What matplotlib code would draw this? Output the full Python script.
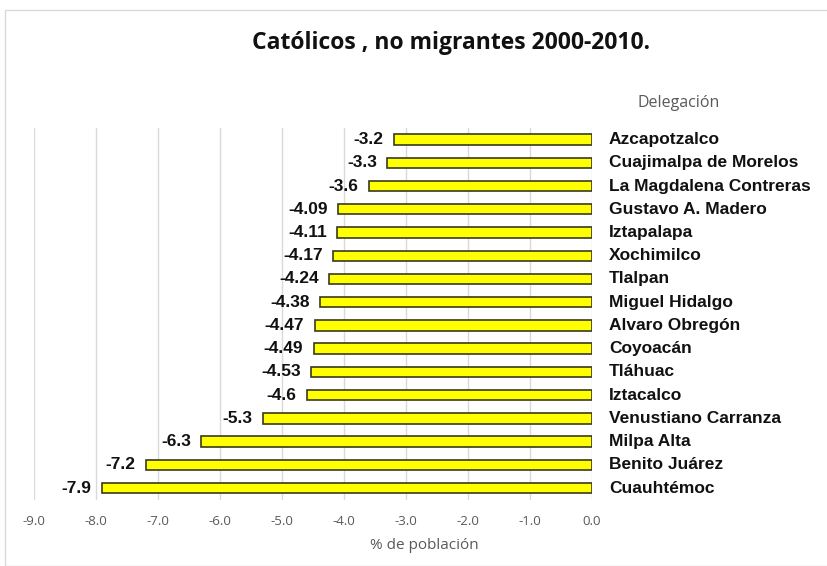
import matplotlib
matplotlib.use("Agg")
import matplotlib.pyplot as plt
from matplotlib.patches import Rectangle

delegaciones = ["Azcapotzalco", "Cuajimalpa de Morelos", "La Magdalena Contreras",
                "Gustavo A. Madero", "Iztapalapa", "Xochimilco", "Tlalpan",
                "Miguel Hidalgo", "Alvaro Obregón", "Coyoacán", "Tláhuac",
                "Iztacalco", "Venustiano Carranza", "Milpa Alta", "Benito Juárez",
                "Cuauhtémoc"]
valores = [-3.2, -3.3, -3.6, -4.09, -4.11, -4.17, -4.24, -4.38, -4.47, -4.49,
           -4.53, -4.6, -5.3, -6.3, -7.2, -7.9]
etiquetas = ["-3.2", "-3.3", "-3.6", "-4.09", "-4.11", "-4.17", "-4.24", "-4.38",
             "-4.47", "-4.49", "-4.53", "-4.6", "-5.3", "-6.3", "-7.2", "-7.9"]
ticks = [-9.0, -8.0, -7.0, -6.0, -5.0, -4.0, -3.0, -2.0, -1.0, 0.0]

fig = plt.figure(figsize=(8.28, 5.66), dpi=100)
ax = fig.add_axes([0.041, 0.117, 0.674, 0.657])

# borde del grafico
fig.patches.append(Rectangle((0.006, 0.0), 0.994, 0.982, transform=fig.transFigure,
                             fill=False, edgecolor="#d9d9d9", linewidth=1))

pos = list(range(len(valores)))
ax.barh(pos, valores, height=0.45, color="#ffff00", edgecolor="#3a3a1a", linewidth=1.2, zorder=3)

for y, v, t in zip(pos, valores, etiquetas):
    ax.text(v - 0.17, y, t, ha="right", va="center", fontsize=12.5,
            fontweight="bold", family="Liberation Sans", color="#111111")
    ax.text(0.27, y, delegaciones[y], ha="left", va="center", fontsize=12.5,
            fontweight="bold", family="Liberation Sans", color="#111111", clip_on=False)

ax.set_xlim(-9, 0)
ax.set_ylim(15.5, -0.5)
ax.set_xticks(ticks)
ax.set_xticklabels([f"{t:.1f}" for t in ticks], family="Open Sans", fontsize=9.5, color="#595959")
ax.tick_params(axis="x", length=0, pad=11)
ax.set_yticks([])
ax.grid(axis="x", color="#d9d9d9", linewidth=1, zorder=0)
for s in ax.spines.values():
    s.set_visible(False)

fig.text(0.513, 0.037, "% de población", ha="center", va="center",
         family="Open Sans", fontsize=11, color="#595959")

fig.text(0.545, 0.924, "Católicos , no migrantes 2000-2010.", ha="center", va="center",
         fontsize=16.5, fontweight="bold", family="Open Sans", color="#111111")
fig.text(0.819, 0.818, "Delegación", ha="center", va="center", fontsize=11.5,
         family="Open Sans", color="#595959")

fig.savefig("out.png", dpi=100)
